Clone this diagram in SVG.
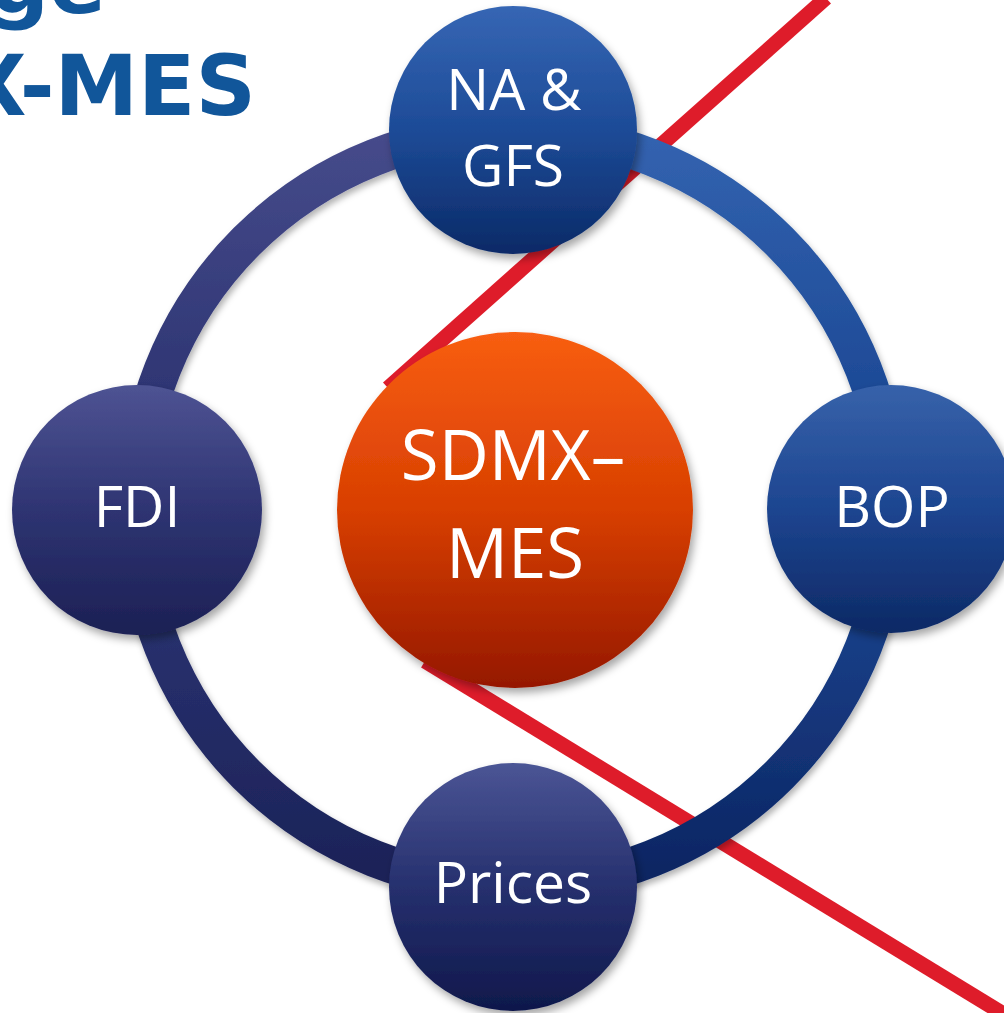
<svg xmlns="http://www.w3.org/2000/svg" width="1004" height="1013" viewBox="0 0 1004 1013">
<defs>
<linearGradient id="gTL" gradientUnits="userSpaceOnUse" x1="0" y1="131" x2="0" y2="508"><stop offset="0" stop-color="#464b8b"/><stop offset="1" stop-color="#242c69"/></linearGradient>
<linearGradient id="gTR" gradientUnits="userSpaceOnUse" x1="0" y1="131" x2="0" y2="508"><stop offset="0" stop-color="#3363b0"/><stop offset="1" stop-color="#143f8b"/></linearGradient>
<linearGradient id="gBR" gradientUnits="userSpaceOnUse" x1="0" y1="508" x2="0" y2="886"><stop offset="0" stop-color="#1f4b99"/><stop offset="1" stop-color="#0b2461"/></linearGradient>
<linearGradient id="gBL" gradientUnits="userSpaceOnUse" x1="0" y1="508" x2="0" y2="886"><stop offset="0" stop-color="#2e3778"/><stop offset="1" stop-color="#1b2257"/></linearGradient>
<linearGradient id="nTop" x1="0" y1="0" x2="0" y2="1"><stop offset="0" stop-color="#3666b4"/><stop offset="0.5" stop-color="#1d4b97"/><stop offset="1" stop-color="#0b2a67"/></linearGradient>
<linearGradient id="nRight" x1="0" y1="0" x2="0" y2="1"><stop offset="0" stop-color="#3762aa"/><stop offset="0.5" stop-color="#1d4590"/><stop offset="1" stop-color="#0d2965"/></linearGradient>
<linearGradient id="nLeft" x1="0" y1="0" x2="0" y2="1"><stop offset="0" stop-color="#4e5393"/><stop offset="0.5" stop-color="#2e3472"/><stop offset="1" stop-color="#1c2054"/></linearGradient>
<linearGradient id="nBottom" x1="0" y1="0" x2="0" y2="1"><stop offset="0" stop-color="#4b5595"/><stop offset="0.5" stop-color="#26306e"/><stop offset="1" stop-color="#0f184b"/></linearGradient>
<linearGradient id="nCenter" x1="0" y1="0" x2="0" y2="1"><stop offset="0" stop-color="#f85e12"/><stop offset="0.5" stop-color="#d83f02"/><stop offset="1" stop-color="#951800"/></linearGradient>
<filter id="sh" x="-20%" y="-20%" width="140%" height="140%"><feDropShadow dx="3" dy="5" stdDeviation="4" flood-color="#000" flood-opacity="0.35"/></filter>
<filter id="shs" x="-20%" y="-20%" width="140%" height="140%"><feDropShadow dx="2" dy="4" stdDeviation="3" flood-color="#000" flood-opacity="0.3"/></filter>
</defs>
<style>
.title{font-family:"DejaVu Sans",Verdana,sans-serif;font-weight:bold;font-size:84px;fill:#11569a}
.lbl{font-family:"Open Sans","Noto Sans",sans-serif;fill:#ffffff;text-anchor:middle}
.red{stroke:#de1c2a;stroke-width:15;fill:none}
.arc{fill:none;stroke-width:37;filter:url(#shs)}
</style>
<text class="title" x="106" y="13" text-anchor="end">ge</text>
<text class="title" x="256" y="115" text-anchor="end">X-MES</text>
<g id="connectors">
<line class="red" x1="826" y1="-2" x2="388" y2="388"/>
<line class="red" x1="425" y1="661" x2="1015" y2="1021"/>
<path class="arc" stroke="url(#gTL)" d="M 136 508 A 377 377 0 0 1 513 131"/>
<path class="arc" stroke="url(#gTR)" d="M 513 131 A 377 377 0 0 1 890 508"/>
<path class="arc" stroke="url(#gBR)" d="M 890 508 A 377 377 0 0 1 513 885"/>
<path class="arc" stroke="url(#gBL)" d="M 513 885 A 377 377 0 0 1 136 508"/>
</g>
<g id="node-na-gfs">
<circle cx="513" cy="130" r="124" fill="url(#nTop)" filter="url(#sh)"/>
<text class="lbl" x="514" y="110" font-size="57">NA &amp;</text>
<text class="lbl" x="513" y="186" font-size="57">GFS</text>
</g>
<g id="node-fdi">
<circle cx="137" cy="510" r="125" fill="url(#nLeft)" filter="url(#sh)"/>
<text class="lbl" x="137" y="527" font-size="57">FDI</text>
</g>
<g id="node-bop">
<circle cx="891" cy="509" r="124" fill="url(#nRight)" filter="url(#sh)"/>
<text class="lbl" x="892" y="527" font-size="57">BOP</text>
</g>
<g id="node-prices">
<circle cx="513" cy="887" r="124" fill="url(#nBottom)" filter="url(#sh)"/>
<text class="lbl" x="513" y="903" font-size="57">Prices</text>
</g>
<g id="node-sdmx-mes">
<circle cx="515" cy="510" r="178" fill="url(#nCenter)" filter="url(#sh)"/>
<text class="lbl" x="513" y="480" font-size="69">SDMX–</text>
<text class="lbl" x="515" y="578" font-size="69">MES</text>
</g>
</svg>
